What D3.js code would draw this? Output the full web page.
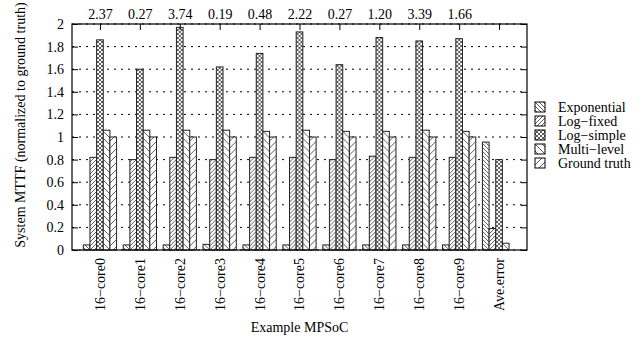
<!DOCTYPE html>
<html>
<head>
<meta charset="utf-8">
<script src="https://cdn.jsdelivr.net/npm/d3@7"></script>
<style>
  body { margin: 0; background: #fff; }
  text { font-family: "Liberation Serif", "Times New Roman", serif; fill: #000; }
</style>
</head>
<body>
<svg id="chart"></svg>
<script>
// data
const categories = ["16\u2212core0", "16\u2212core1", "16\u2212core2", "16\u2212core3", "16\u2212core4",
    "16\u2212core5", "16\u2212core6", "16\u2212core7", "16\u2212core8", "16\u2212core9", "Ave.error"];
const seriesNames = ["Exponential", "Log\u2212fixed", "Log\u2212simple", "Multi\u2212level", "Ground truth"];
const exponential = [0.045, 0.045, 0.045, 0.05, 0.045, 0.045, 0.045, 0.045, 0.045, 0.045, 0.955];
const logFixed    = [0.82, 0.80, 0.82, 0.80, 0.82, 0.82, 0.80, 0.83, 0.82, 0.82, 0.19];
const logSimple   = [1.86, 1.60, 1.97, 1.62, 1.74, 1.93, 1.64, 1.88, 1.85, 1.87, 0.80];
const multiLevel  = [1.06, 1.06, 1.06, 1.06, 1.05, 1.06, 1.05, 1.05, 1.06, 1.05, 0.06];
const groundTruth = [1, 1, 1, 1, 1, 1, 1, 1, 1, 1, 0];
const topLabels = ["2.37", "0.27", "3.74", "0.19", "0.48", "2.22", "0.27", "1.20", "3.39", "1.66", ""];
const yTicks = [0, 0.2, 0.4, 0.6, 0.8, 1, 1.2, 1.4, 1.6, 1.8, 2];

const series = [exponential, logFixed, logSimple, multiLevel, groundTruth];
const patternIds = ["p-exp", "p-fixed", "p-simple", "p-multi", "p-gt"];

const W = 642, H = 339;
const margin = { top: 24, right: 115, bottom: 89, left: 72 };
const width = W - margin.left - margin.right;
const height = H - margin.top - margin.bottom;
const fontSize = "14px";

const svg = d3.select("#chart").attr("width", W).attr("height", H);

// hatch patterns (gnuplot style fills)
const defs = svg.append("defs");
function hatch(id, size, d) {
    const p = defs.append("pattern")
        .attr("id", id)
        .attr("patternUnits", "userSpaceOnUse")
        .attr("width", size).attr("height", size);
    p.append("rect").attr("width", size).attr("height", size).attr("fill", "#fff");
    p.append("path").attr("d", d)
        .attr("stroke", "#333").attr("stroke-width", 0.8).attr("fill", "none");
}
const back4 = "M-1,-1L5,5M3,-1L5,1M-1,3L1,5";
const fwd4 = "M-1,5L5,-1M-1,1L1,-1M3,5L5,3";
hatch("p-exp", 4, back4);
hatch("p-fixed", 4, fwd4);
hatch("p-simple", 4, back4 + fwd4);
hatch("p-multi", 7, "M-1,-1L8,8M6,-1L8,1M-1,6L1,8");
hatch("p-gt", 7, "M-1,8L8,-1M-1,1L1,-1M6,8L8,6");

const chart = svg.append("g").attr("transform", `translate(${margin.left},${margin.top})`);

const x0 = d3.scaleBand()
    .domain(d3.range(categories.length))
    .range([0, width])
    .paddingInner(0)
    .paddingOuter(0.2);

const x1 = d3.scaleBand()
    .domain(d3.range(series.length))
    .range([0, x0.bandwidth()])
    .paddingInner(0)
    .paddingOuter(0.5);

const y = d3.scaleLinear().domain([0, 2]).range([height, 0]);

// dotted grid
chart.append("g").selectAll("line")
    .data(yTicks)
    .join("line")
    .attr("x1", 0).attr("x2", width)
    .attr("y1", d => y(d)).attr("y2", d => y(d))
    .attr("stroke", "#000").attr("stroke-width", 1)
    .attr("stroke-dasharray", "2,5");

// bars
const groups = chart.append("g").selectAll("g")
    .data(d3.range(categories.length))
    .join("g")
    .attr("transform", i => `translate(${x0(i)},0)`);

groups.selectAll("rect")
    .data(i => series.map((s, j) => ({ j: j, v: s[i] })).filter(d => d.v > 0))
    .join("rect")
    .attr("x", d => x1(d.j))
    .attr("width", x1.bandwidth())
    .attr("y", d => y(d.v))
    .attr("height", d => y(0) - y(d.v))
    .attr("fill", d => `url(#${patternIds[d.j]})`)
    .attr("stroke", "#222")
    .attr("stroke-width", 1);

// axes, ticks pointing inward
const xPoint = d3.scalePoint().domain(d3.range(categories.length))
    .range([x0(0) + x0.bandwidth() / 2, x0(categories.length - 1) + x0.bandwidth() / 2]);

const yAxis = chart.append("g")
    .call(d3.axisLeft(y).tickValues(yTicks).tickSize(-6).tickPadding(8).tickFormat(d3.format("~g")));
const yAxisRight = chart.append("g")
    .attr("transform", `translate(${width},0)`)
    .call(d3.axisRight(y).tickValues(yTicks).tickSize(-6).tickFormat(""));

const topAxis = chart.append("g")
    .call(d3.axisTop(xPoint).tickSize(-6).tickPadding(5).tickFormat(i => topLabels[i]));

const xAxis = chart.append("g")
    .attr("transform", `translate(0,${height})`)
    .call(d3.axisBottom(xPoint).tickSize(0).tickFormat(i => categories[i]));

xAxis.selectAll("text")
    .attr("transform", "rotate(-90)")
    .attr("text-anchor", "end")
    .attr("x", -8).attr("y", 0).attr("dy", "0.32em");

[yAxis, yAxisRight, topAxis, xAxis].forEach(a => a.selectAll(".domain").remove());
chart.selectAll(".tick line").attr("stroke", "#000");
chart.selectAll(".tick text").style("font-size", fontSize).style("font-family", "Liberation Serif");

// plot border
chart.append("rect")
    .attr("width", width).attr("height", height)
    .attr("fill", "none").attr("stroke", "#000").attr("stroke-width", 1.2);

// titles
svg.append("text")
    .attr("transform", `translate(25,${margin.top + height / 2 - 12}) rotate(-90)`)
    .attr("text-anchor", "middle")
    .style("font-size", fontSize)
    .text("System MTTF (normalized to ground truth)");

svg.append("text")
    .attr("x", margin.left + width / 2).attr("y", 332)
    .attr("text-anchor", "middle")
    .style("font-size", fontSize)
    .text("Example MPSoC");

// legend
const legend = svg.append("g").attr("transform", "translate(535,102)");
const item = legend.selectAll("g")
    .data(seriesNames)
    .join("g")
    .attr("transform", (d, i) => `translate(0,${i * 14})`);
item.append("rect")
    .attr("width", 10).attr("height", 10)
    .attr("fill", (d, i) => `url(#${patternIds[i]})`)
    .attr("stroke", "#000").attr("stroke-width", 1);
item.append("text")
    .attr("x", 23).attr("y", 5).attr("dy", "0.35em")
    .style("font-size", fontSize)
    .text(d => d);
</script>
</body>
</html>
